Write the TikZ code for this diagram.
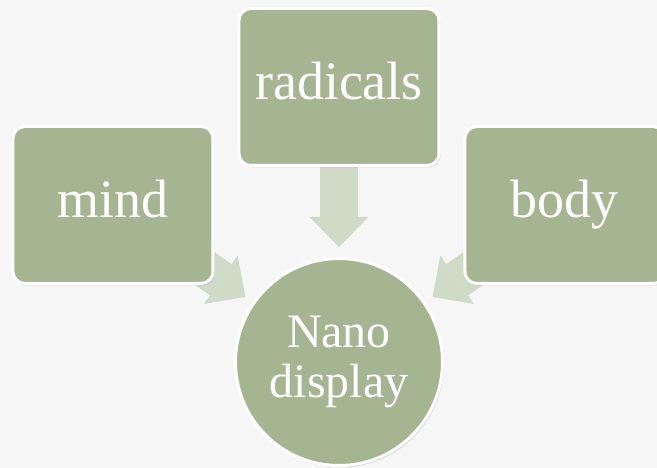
\documentclass[tikz,border=0pt]{standalone}
\usepackage{fontspec}
\setmainfont{Liberation Serif}
\usetikzlibrary{positioning,arrows.meta,shadows,backgrounds}

\definecolor{sage}{RGB}{165,181,146}
\definecolor{palesage}{RGB}{207,218,199}
\definecolor{paper}{RGB}{246,246,246}

\tikzset{
    box/.style={draw=white, line width=3pt, fill=sage, rounded corners=12pt,
        minimum width=200pt, minimum height=157pt, inner sep=0pt, text=white,
        font=\fontsize{54}{60}\selectfont, text height=37pt, text depth=12pt,
        drop shadow={opacity=0.25, shadow xshift=1.5pt, shadow yshift=-2pt}},
    hub/.style={circle, draw=white, line width=3pt, fill=sage, minimum size=207pt,
        inner sep=0pt, text=white, align=center, font=\fontsize{48}{50}\selectfont,
        drop shadow={opacity=0.25, shadow xshift=1.5pt, shadow yshift=-2pt}},
    fat/.style={draw=palesage, line width=38pt,
        -{Triangle[length=30pt, width=59pt, line width=0pt]}, shorten <=-30pt}
}

\begin{document}
\begin{tikzpicture}

            \useasboundingbox (-339pt,-106pt) rectangle (318pt,362pt);

            \node[hub]                                 (nano)     {Nano\\display};
            \node[box, above=90pt of nano]             (radicals) {radicals};
            \node[box, left=23pt of radicals, yshift=-118pt]  (mind) {mind};
            \node[box, right=23pt of radicals, yshift=-118pt] (body) {body};

            \begin{scope}[on background layer]
                \fill[paper] (-339pt,-106pt) rectangle (318pt,362pt);
                \draw[fat, shorten >=10pt] (radicals) -- (nano); %
                \draw[fat, shorten >=9pt]  (mind) -- (nano); %
                \draw[fat, shorten >=9pt]  (body) -- (nano); %
            \end{scope}

        \end{tikzpicture}
\end{document}
